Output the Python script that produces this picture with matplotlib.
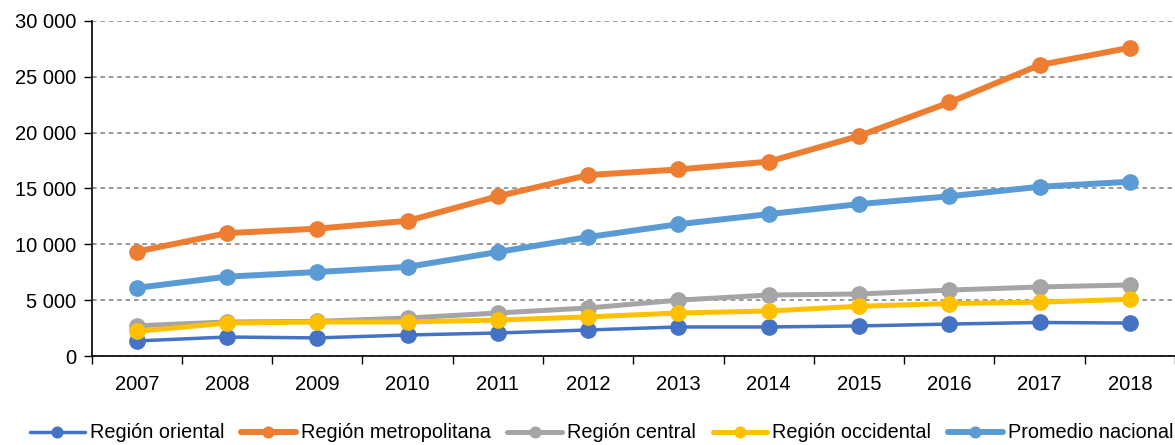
import numpy as np
import matplotlib
matplotlib.use('Agg')
import matplotlib.pyplot as plt
from matplotlib.ticker import FuncFormatter, MultipleLocator

plt.rcParams['font.family'] = ['Liberation Sans', 'DejaVu Sans']

# datos
years = ['2007', '2008', '2009', '2010', '2011', '2012',
         '2013', '2014', '2015', '2016', '2017', '2018']
oriental = [1350, 1700, 1620, 1880, 2060, 2330, 2600, 2600, 2690, 2860, 3000, 2950]
metropolitana = [9350, 11000, 11400, 12100, 14300, 16200, 16700, 17400, 19700, 22700, 26050, 27600]
central = [2700, 3050, 3100, 3400, 3850, 4300, 5000, 5460, 5550, 5900, 6180, 6360]
occidental = [2200, 2950, 3040, 3050, 3220, 3500, 3850, 4030, 4450, 4700, 4820, 5080]
promedio = [6100, 7100, 7520, 7980, 9310, 10650, 11800, 12700, 13600, 14300, 15150, 15600]

series = [
    ('Región oriental', oriental, '#4472C4', 2.5),
    ('Región metropolitana', metropolitana, '#ED7D31', 4.3),
    ('Región central', central, '#A5A5A5', 3.6),
    ('Región occidental', occidental, '#FFC000', 3.6),
    ('Promedio nacional', promedio, '#5B9BD5', 4.3),
]

fig = plt.figure(figsize=(11.75, 4.45), dpi=100)
ax = fig.add_axes([0.078, 0.2, 0.922, 0.753])

x = np.arange(len(years))
for label, vals, color, lw in series:
    ax.plot(x, vals, color=color, lw=lw, marker='o', markersize=11,
            label=label, solid_capstyle='round')

ax.set_xlim(-0.5, len(years) - 0.5)
ax.set_ylim(0, 30000)
ax.yaxis.set_major_locator(MultipleLocator(5000))
ax.yaxis.set_major_formatter(FuncFormatter(lambda v, p: f'{int(v):,}'.replace(',', ' ')))
ax.grid(axis='y', color='#808080', linestyle=(0, (3, 2.5)), linewidth=1.1)
ax.set_axisbelow(True)

ax.set_xticks(x)
ax.set_xticklabels(years)
ax.set_xticks(np.arange(-0.5, len(years)), minor=True)
ax.tick_params(axis='x', which='major', length=0, pad=14, labelsize=14.5)
ax.tick_params(axis='x', which='minor', length=6, width=1, direction='out')
ax.tick_params(axis='y', length=6, width=1, labelsize=14.5, pad=5)

for s in ['top', 'right']:
    ax.spines[s].set_visible(False)
ax.spines['left'].set_linewidth(1.2)
ax.spines['bottom'].set_linewidth(1.2)

fig.legend(loc='center', bbox_to_anchor=(0.512, 0.027), ncol=5, frameon=False,
           fontsize=14.3, handlelength=2.75, handletextpad=0.25, columnspacing=0.85,
           markerscale=0.7, borderaxespad=0, borderpad=0)

fig.savefig('out.png', dpi=100)
